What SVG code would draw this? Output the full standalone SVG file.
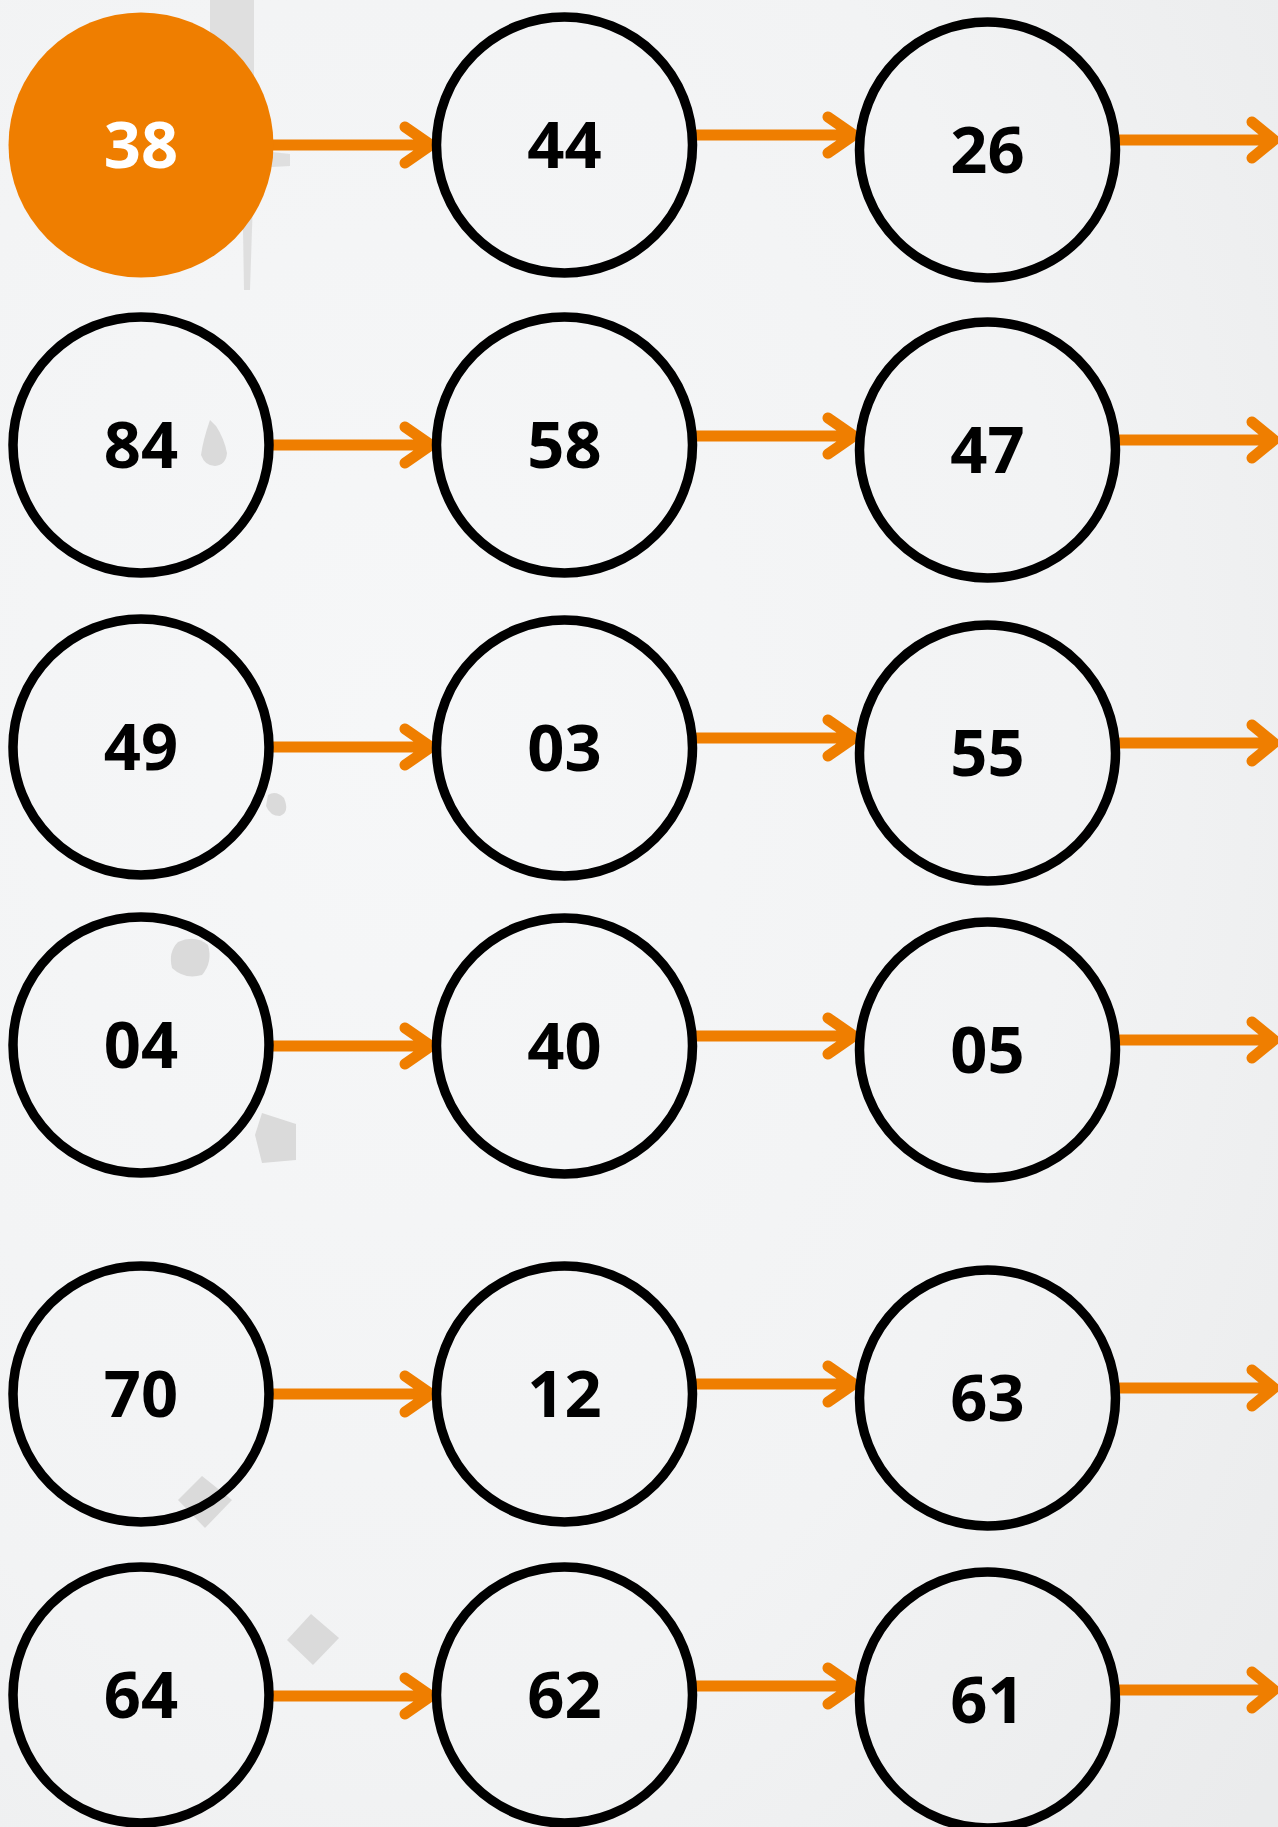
<svg xmlns="http://www.w3.org/2000/svg" width="1278" height="1827" viewBox="0 0 1278 1827">
<defs>
<radialGradient id="bg" cx="0.3" cy="0.4" r="0.9">
<stop offset="0" stop-color="#f6f7f8"/>
<stop offset="0.6" stop-color="#f2f3f4"/>
<stop offset="1" stop-color="#eaebec"/>
</radialGradient>
<style>
.n{fill:none;stroke:#000;stroke-width:9.5}
.h{fill:#ef7e00}
.t{font-family:"Open Sans","Noto Sans",sans-serif;font-weight:700;font-size:65px;text-anchor:middle;fill:#000}
.w{fill:#fff}
.a{fill:none;stroke:#ef7e00;stroke-width:11;stroke-linecap:round;stroke-linejoin:round}
.g{fill:#dadada}
</style>
</defs>
<rect width="1278" height="1827" fill="url(#bg)"/>
<g id="background-marks">
<path class="g" d="M210 0 L254 0 L254 150 L290 154 L290 166 L254 168 L250 290 L244 290 L242 168 L210 160 Z" opacity="0.8"/>
<path class="g" d="M210 420 Q203 440 201 455 Q205 466 215 466 Q226 465 227 453 Q224 438 216 426 Z"/>
<path class="g" d="M268 795 Q276 790 284 798 Q290 812 280 816 Q270 816 266 806 Z"/>
<path class="g" d="M178 942 Q195 934 208 945 Q213 962 202 975 Q185 980 172 968 Q168 952 178 942 Z"/>
<path class="g" d="M262 1113 L296 1124 L296 1160 L262 1163 L255 1135 Z"/>
<path class="g" d="M178 1500 L202 1476 L232 1500 L205 1528 Z"/>
<path class="g" d="M287 1640 L311 1614 L339 1638 L313 1665 Z"/>
</g>
<g id="connectors">
<path class="a" d="M273 145 H430 M405 127 L431 145 L405 163"/>
<path class="a" d="M697 135 H853 M828 117 L854 135 L828 153"/>
<path class="a" d="M1120 140 H1274 M1252 122 L1274 140 L1252 158"/>
<path class="a" d="M273 445 H430 M405 427 L431 445 L405 463"/>
<path class="a" d="M697 436 H853 M828 418 L854 436 L828 454"/>
<path class="a" d="M1120 440 H1274 M1252 422 L1274 440 L1252 458"/>
<path class="a" d="M273 747 H430 M405 729 L431 747 L405 765"/>
<path class="a" d="M697 738 H853 M828 720 L854 738 L828 756"/>
<path class="a" d="M1120 743 H1274 M1252 725 L1274 743 L1252 761"/>
<path class="a" d="M273 1046 H430 M405 1028 L431 1046 L405 1064"/>
<path class="a" d="M697 1036 H853 M828 1018 L854 1036 L828 1054"/>
<path class="a" d="M1120 1040 H1274 M1252 1022 L1274 1040 L1252 1058"/>
<path class="a" d="M273 1394 H430 M405 1376 L431 1394 L405 1412"/>
<path class="a" d="M697 1384 H853 M828 1366 L854 1384 L828 1402"/>
<path class="a" d="M1120 1388 H1274 M1252 1370 L1274 1388 L1252 1406"/>
<path class="a" d="M273 1696 H430 M405 1678 L431 1696 L405 1714"/>
<path class="a" d="M697 1686 H853 M828 1668 L854 1686 L828 1704"/>
<path class="a" d="M1120 1690 H1274 M1252 1672 L1274 1690 L1252 1708"/>
</g>
<g id="n38"><circle class="h" cx="141" cy="145" r="132.5"/><text class="t w" x="141" y="168">38</text></g>
<g id="n44"><circle class="n" cx="564.5" cy="145" r="128"/><text class="t" x="564.5" y="168">44</text></g>
<g id="n26"><circle class="n" cx="987.5" cy="150" r="128"/><text class="t" x="987.5" y="173">26</text></g>
<g id="n84"><circle class="n" cx="141" cy="445" r="128"/><text class="t" x="141" y="468">84</text></g>
<g id="n58"><circle class="n" cx="564.5" cy="445" r="128"/><text class="t" x="564.5" y="468">58</text></g>
<g id="n47"><circle class="n" cx="987.5" cy="450" r="128"/><text class="t" x="987.5" y="473">47</text></g>
<g id="n49"><circle class="n" cx="141" cy="747" r="128"/><text class="t" x="141" y="770">49</text></g>
<g id="n03"><circle class="n" cx="564.5" cy="748" r="128"/><text class="t" x="564.5" y="771">03</text></g>
<g id="n55"><circle class="n" cx="987.5" cy="753" r="128"/><text class="t" x="987.5" y="776">55</text></g>
<g id="n04"><circle class="n" cx="141" cy="1045" r="128"/><text class="t" x="141" y="1068">04</text></g>
<g id="n40"><circle class="n" cx="564.5" cy="1046" r="128"/><text class="t" x="564.5" y="1069">40</text></g>
<g id="n05"><circle class="n" cx="987.5" cy="1050" r="128"/><text class="t" x="987.5" y="1073">05</text></g>
<g id="n70"><circle class="n" cx="141" cy="1394" r="128"/><text class="t" x="141" y="1417">70</text></g>
<g id="n12"><circle class="n" cx="564.5" cy="1394" r="128"/><text class="t" x="564.5" y="1417">12</text></g>
<g id="n63"><circle class="n" cx="987.5" cy="1398" r="128"/><text class="t" x="987.5" y="1421">63</text></g>
<g id="n64"><circle class="n" cx="141" cy="1695" r="128"/><text class="t" x="141" y="1718">64</text></g>
<g id="n62"><circle class="n" cx="564.5" cy="1695" r="128"/><text class="t" x="564.5" y="1718">62</text></g>
<g id="n61"><circle class="n" cx="987.5" cy="1700" r="128"/><text class="t" x="987.5" y="1723">61</text></g>
</svg>
